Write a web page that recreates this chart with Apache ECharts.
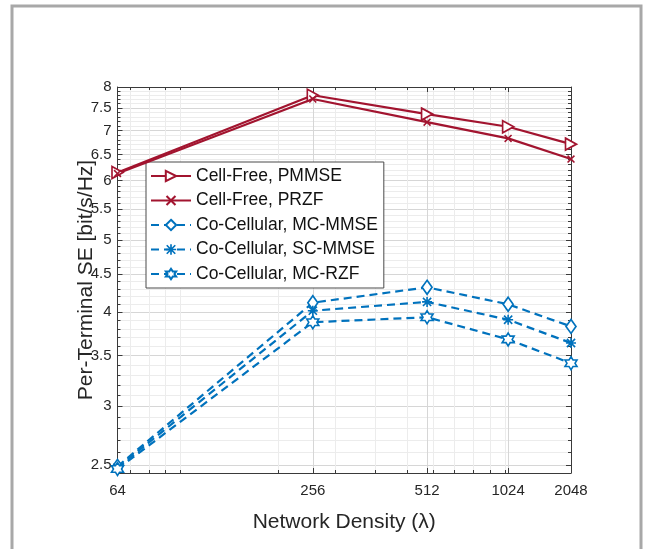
<!DOCTYPE html>
<html>
<head>
<meta charset="utf-8">
<script src="https://cdn.jsdelivr.net/npm/echarts@6/dist/echarts.min.js"></script>
<style>
  html, body { margin: 0; padding: 0; background: #fff; }
  #chart { width: 645px; height: 549px; }
</style>
</head>
<body>
<div id="chart"></div>
<script>
// x positions of the simulated points (log10 axis) and the labels printed under them
const xValues = [64, 256, 576, 1024, 1600];
const xTickLabels = ['64', '256', '512', '1024', '2048'];
const xMinorTicks = [70, 80, 90, 100, 200, 300, 400, 500, 600, 700, 800, 900, 1000];

const yMajorTicks = [2.5, 3, 3.5, 4, 4.5, 5, 5.5, 6, 6.5, 7, 7.5, 8];
const yMinorTicks = [2.6, 2.7, 2.8, 2.9, 3.1, 3.2, 3.3, 3.4, 3.6, 3.7, 3.8, 3.9,
  4.1, 4.2, 4.3, 4.4, 4.6, 4.7, 4.8, 4.9, 5.1, 5.2, 5.3, 5.4, 5.6, 5.7, 5.8, 5.9,
  6.1, 6.2, 6.3, 6.4, 6.6, 6.7, 6.8, 6.9, 7.1, 7.2, 7.3, 7.4, 7.6, 7.7, 7.8, 7.9];

// per-terminal spectral efficiency [bit/s/Hz]
const cellFreePmmse = [6.15, 7.80, 7.36, 7.08, 6.71];
const cellFreePrzf  = [6.13, 7.71, 7.18, 6.83, 6.41];
const coCellMcMmse  = [2.49, 4.12, 4.32, 4.10, 3.83];
const coCellScMmse  = [2.48, 4.02, 4.13, 3.91, 3.64];
const coCellMcRzf   = [2.47, 3.88, 3.94, 3.68, 3.42];

const RED = '#A2142F';
const BLUE = '#0072BD';
const AXIS = '#3a3a3a';
const GRID_MAJOR = '#d6d6d6';
const GRID_MINOR = '#ececec';
const FONT = '"Liberation Sans", Arial, sans-serif';

const SYM_TRI_RIGHT = 'path://M0,0L10,5L0,10Z';
const SYM_CROSS = 'path://M0,1.4L1.4,0L5,3.6L8.6,0L10,1.4L6.4,5L10,8.6L8.6,10L5,6.4L1.4,10L0,8.6L3.6,5Z';
const SYM_DIAMOND = 'path://M5,0L10,7L5,14L0,7Z';
const SYM_ASTERISK = 'path://M0,4.2H10V5.8H0Z M4.2,0H5.8V10H4.2Z M1.47,0.33L9.67,8.53L8.53,9.67L0.33,1.47Z M8.53,0.33L9.67,1.47L1.47,9.67L0.33,8.53Z';
const SYM_HEXAGRAM = 'path://M5,0L6.44,2.5L9.33,2.5L7.89,5L9.33,7.5L6.44,7.5L5,10L3.56,7.5L0.67,7.5L2.11,5L0.67,2.5L3.56,2.5Z';

const X_MIN = 64, X_MAX = 1600;
const Y_MIN = 2.44, Y_MAX = 8;

function pairs(ys) { return xValues.map((x, i) => [x, ys[i]]); }

function xAxisDef(position, ticks, tickLen, opts) {
  return Object.assign({
    type: 'log', logBase: 10, min: X_MIN, max: X_MAX, position: position,
    axisLine: { show: false },
    axisTick: { show: true, inside: true, length: tickLen, customValues: ticks, lineStyle: { color: AXIS, width: 1 } },
    axisLabel: { show: false },
    splitLine: { show: false },
    minorTick: { show: false }, minorSplitLine: { show: false }
  }, opts || {});
}
function yAxisDef(position, ticks, tickLen, opts) {
  return Object.assign({
    type: 'log', logBase: 10, min: Y_MIN, max: Y_MAX, position: position,
    axisLine: { show: false },
    axisTick: { show: true, inside: true, length: tickLen, customValues: ticks, lineStyle: { color: AXIS, width: 1 } },
    axisLabel: { show: false },
    splitLine: { show: false },
    minorTick: { show: false }, minorSplitLine: { show: false }
  }, opts || {});
}

const chart = echarts.init(document.getElementById('chart'), null, { renderer: 'canvas' });

const option = {
  animation: false,
  backgroundColor: '#fff',
  textStyle: { fontFamily: FONT },
  graphic: [{
    type: 'rect', silent: true, z: -10,
    shape: { x: 12, y: 6, width: 629, height: 560 },
    style: { fill: 'none', stroke: '#a8a8a8', lineWidth: 3 }
  }],
  grid: { left: 117.5, right: 74, top: 87, bottom: 76, containLabel: false },
  xAxis: [
    xAxisDef('bottom', xValues, 5, {
      axisLine: { show: true, lineStyle: { color: AXIS, width: 1 } },
      axisLabel: {
        show: true, customValues: xValues, margin: 10,
        fontSize: 15, color: '#262626', fontFamily: FONT,
        formatter: function (v) {
          const i = xValues.findIndex(x => Math.abs(x - v) < 1);
          return i >= 0 ? xTickLabels[i] : '';
        }
      },
      splitLine: { show: true, lineStyle: { color: GRID_MAJOR, width: 1 } },
      name: 'Network Density (\u03bb)', nameLocation: 'middle', nameGap: 39,
      nameMoveOverlap: false,
      nameTextStyle: { fontSize: 21, color: '#262626', fontFamily: FONT }
    }),
    xAxisDef('bottom', xMinorTicks, 3, {
      splitLine: { show: true, lineStyle: { color: GRID_MINOR, width: 1 } }, z: 0
    }),
    xAxisDef('top', xValues, 5, {
      axisLine: { show: true, lineStyle: { color: AXIS, width: 1 } }
    }),
    xAxisDef('top', xMinorTicks, 3)
  ],
  yAxis: [
    yAxisDef('left', yMajorTicks, 5, {
      axisLine: { show: true, lineStyle: { color: AXIS, width: 1 } },
      axisLabel: {
        show: true, customValues: yMajorTicks, margin: 6,
        fontSize: 15, color: '#262626', fontFamily: FONT,
        formatter: function (v) { return String(+(+v).toFixed(1)); }
      },
      splitLine: { show: true, lineStyle: { color: GRID_MAJOR, width: 1 } },
      name: 'Per-Terminal SE [bit/s/Hz]', nameLocation: 'middle', nameGap: 21,
      nameMoveOverlap: false,
      nameTextStyle: { fontSize: 21, color: '#262626', fontFamily: FONT }
    }),
    yAxisDef('left', yMinorTicks, 3, {
      splitLine: { show: true, lineStyle: { color: GRID_MINOR, width: 1 } }, z: 0
    }),
    yAxisDef('right', yMajorTicks, 5, {
      axisLine: { show: true, lineStyle: { color: AXIS, width: 1 } }
    }),
    yAxisDef('right', yMinorTicks, 3)
  ],
  legend: {
    orient: 'vertical', left: 146, top: 162,
    itemWidth: 40, itemHeight: 13, itemGap: 6.5,
    padding: [5, 6, 5, 4],
    backgroundColor: '#fff', borderColor: '#4a4a4a', borderWidth: 1,
    textStyle: { fontSize: 17.5, color: '#111', fontFamily: FONT },
    data: ['Cell-Free, PMMSE', 'Cell-Free, PRZF', 'Co-Cellular, MC-MMSE', 'Co-Cellular, SC-MMSE', 'Co-Cellular, MC-RZF']
  },
  series: [
    {
      name: 'Cell-Free, PMMSE', type: 'line', xAxisIndex: 0, yAxisIndex: 0,
      data: pairs(cellFreePmmse), symbol: SYM_TRI_RIGHT, symbolSize: [11, 12],
      lineStyle: { color: RED, width: 2.2 },
      itemStyle: { color: '#fff', borderColor: RED, borderWidth: 1.7 }, z: 5
    },
    {
      name: 'Cell-Free, PRZF', type: 'line', xAxisIndex: 0, yAxisIndex: 0,
      data: pairs(cellFreePrzf), symbol: SYM_CROSS, symbolSize: [8, 8],
      lineStyle: { color: RED, width: 2.2 },
      itemStyle: { color: RED }, z: 5
    },
    {
      name: 'Co-Cellular, MC-MMSE', type: 'line', xAxisIndex: 0, yAxisIndex: 0,
      data: pairs(coCellMcMmse), symbol: SYM_DIAMOND, symbolSize: [10, 14],
      lineStyle: { color: BLUE, width: 2.2, type: [8, 5] },
      itemStyle: { color: '#fff', borderColor: BLUE, borderWidth: 1.7 }, z: 5
    },
    {
      name: 'Co-Cellular, SC-MMSE', type: 'line', xAxisIndex: 0, yAxisIndex: 0,
      data: pairs(coCellScMmse), symbol: SYM_ASTERISK, symbolSize: [10, 10],
      lineStyle: { color: BLUE, width: 2.2, type: [8, 5] },
      itemStyle: { color: BLUE }, z: 5
    },
    {
      name: 'Co-Cellular, MC-RZF', type: 'line', xAxisIndex: 0, yAxisIndex: 0,
      data: pairs(coCellMcRzf), symbol: SYM_HEXAGRAM, symbolSize: [12, 13],
      lineStyle: { color: BLUE, width: 2.2, type: [8, 5] },
      itemStyle: { color: '#fff', borderColor: BLUE, borderWidth: 1.6 }, z: 5
    }
  ]
};

chart.setOption(option);
</script>
</body>
</html>
